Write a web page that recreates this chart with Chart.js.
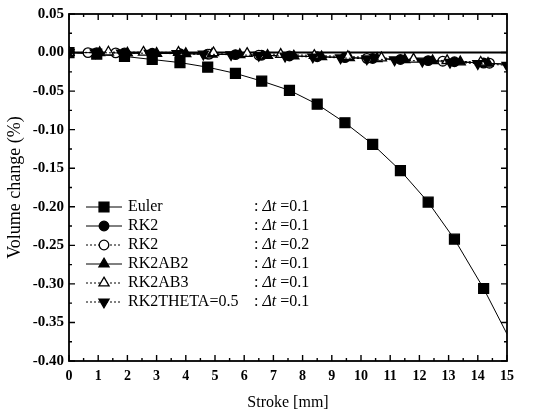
<!DOCTYPE html>
<html>
<head>
<meta charset="utf-8">
<script src="https://cdn.jsdelivr.net/npm/chart.js@4/dist/chart.umd.min.js"></script>
<style>
  html, body { margin: 0; padding: 0; background: #fff; }
  #wrap { width: 560px; height: 416px; position: relative; }
</style>
</head>
<body>
<div id="wrap"><canvas id="chart" width="560" height="416"></canvas></div>
<script>
// Dados (Stroke [mm] x Volume change (%))
const strokeEuler = [0, 0.95, 1.9, 2.85, 3.8, 4.75, 5.7, 6.6, 7.55, 8.5, 9.45, 10.4, 11.35, 12.3, 13.2, 14.2, 15];
const volEuler    = [0, -0.002, -0.005, -0.009, -0.013, -0.019, -0.027, -0.037, -0.049, -0.067, -0.091, -0.119, -0.153, -0.194, -0.242, -0.306, -0.365];

const strokeRK2a = [0, 0.95, 1.9, 2.85, 3.8, 4.75, 5.7, 6.6, 7.55, 8.5, 9.45, 10.4, 11.35, 12.3, 13.2, 14.2, 15];
const volRK2a    = [0, -0.0002, -0.0005, -0.0009, -0.0014, -0.002, -0.0027, -0.0035, -0.0044, -0.0054, -0.0065, -0.0077, -0.009, -0.0104, -0.0119, -0.0136, -0.0152];

const strokeRK2b = [0, 0.65, 1.6, 4.8, 6.5, 10.2, 12.8, 14.4];
const volRK2b    = [0, -0.0001, -0.0004, -0.002, -0.0034, -0.0075, -0.0112, -0.0138];

const strokeAB2 = [0, 1.05, 2.0, 3.0, 4.0, 4.9, 5.85, 6.8, 7.7, 8.65, 9.6, 10.55, 11.5, 12.45, 13.4, 14.35, 15];
const volAB2    = [0, -0.0002, -0.0006, -0.001, -0.0015, -0.0021, -0.0028, -0.0036, -0.0045, -0.0055, -0.0067, -0.0079, -0.0092, -0.0106, -0.0121, -0.0139, -0.0151];

const strokeAB3 = [0, 1.35, 2.55, 3.75, 4.95, 6.1, 7.25, 8.4, 9.55, 10.7, 11.8, 12.95, 14.1];
const volAB3    = [0, 0.0006, 0.0004, 0.0002, -0.0003, -0.0012, -0.0024, -0.0038, -0.0052, -0.0069, -0.0086, -0.0105, -0.0126];

const strokeTheta = [0, 0.9, 1.8, 2.75, 3.7, 4.6, 5.55, 6.5, 7.4, 8.35, 9.3, 10.2, 11.15, 12.1, 13.05, 14.0, 15];
const volTheta    = [0, -0.0002, -0.0005, -0.0009, -0.0014, -0.002, -0.0028, -0.0037, -0.0046, -0.0057, -0.0069, -0.0081, -0.0095, -0.011, -0.0126, -0.0143, -0.0165];

const xTicks = [0, 1, 2, 3, 4, 5, 6, 7, 8, 9, 10, 11, 12, 13, 14, 15];
const yTicks = [0.05, 0.00, -0.05, -0.10, -0.15, -0.20, -0.25, -0.30, -0.35, -0.40];

const legendNames = ['Euler', 'RK2', 'RK2', 'RK2AB2', 'RK2AB3', 'RK2THETA=0.5'];
const legendDt    = ['0.1', '0.1', '0.2', '0.1', '0.1', '0.1'];

const FONT = "'Liberation Serif', 'DejaVu Serif', serif";

function pts(xs, ys) {
    return xs.map((x, i) => ({ x: x, y: ys[i] }));
}
// último ponto em x=15 só prolonga a linha, sem marcador
function radii(n, r) {
    return Array.from({ length: n }, (_, i) => i === n - 1 ? 0 : r);
}

const series = [
    { data: pts(strokeEuler, volEuler), pointStyle: 'rect', pointRadius: radii(strokeEuler.length, 7), fill: '#000', dash: [], rot: 0 },
    { data: pts(strokeRK2a, volRK2a), pointStyle: 'circle', pointRadius: radii(strokeRK2a.length, 4.8), fill: '#000', dash: [], rot: 0 },
    { data: pts(strokeRK2b, volRK2b), pointStyle: 'circle', pointRadius: 4.8, fill: '#fff', dash: [2, 2], rot: 0 },
    { data: pts(strokeAB2, volAB2), pointStyle: 'triangle', pointRadius: radii(strokeAB2.length, 5.8), fill: '#000', dash: [], rot: 0 },
    { data: pts(strokeAB3, volAB3), pointStyle: 'triangle', pointRadius: 5.8, fill: '#fff', dash: [2, 2], rot: 0 },
    { data: pts(strokeTheta, volTheta), pointStyle: 'triangle', pointRadius: 5.8, fill: '#000', dash: [2, 2], rot: 180 }
];

const datasets = [{
    // linha de referência em zero
    data: [{ x: 0, y: 0 }, { x: 15, y: 0 }],
    borderColor: '#000',
    borderWidth: 2,
    pointRadius: 0,
    order: 10
}].concat(series.map((s, i) => ({
    label: legendNames[i],
    data: s.data,
    borderColor: '#000',
    borderWidth: 1,
    borderDash: s.dash,
    backgroundColor: s.fill,
    pointStyle: s.pointStyle,
    pointRadius: s.pointRadius,
    pointRotation: s.rot,
    pointBorderColor: '#000',
    pointBorderWidth: 1.3,
    pointBackgroundColor: s.fill,
    tension: 0,
    order: 6 - i
})));

// moldura e marcas de escala para dentro nos quatro lados
const framePlugin = {
    id: 'frame',
    afterDraw(chart) {
        const { ctx, chartArea: a, scales } = chart;
        const xs = scales.x, ys = scales.y;
        ctx.save();
        ctx.strokeStyle = '#000';
        ctx.lineWidth = 1.8;
        ctx.strokeRect(a.left, a.top, a.right - a.left, a.bottom - a.top);
        ctx.lineWidth = 1.4;
        ctx.beginPath();
        for (let v = 0; v <= 15.001; v += 0.5) {
            const p = xs.getPixelForValue(v);
            const len = Math.abs(v - Math.round(v)) < 1e-6 ? 6 : 3;
            ctx.moveTo(p, a.bottom); ctx.lineTo(p, a.bottom - len);
            ctx.moveTo(p, a.top); ctx.lineTo(p, a.top + len);
        }
        for (let k = 0; k <= 18; k++) {
            const v = 0.05 - k * 0.025;
            const p = ys.getPixelForValue(v);
            const len = k % 2 === 0 ? 6 : 3;
            ctx.moveTo(a.left, p); ctx.lineTo(a.left + len, p);
            ctx.moveTo(a.right, p); ctx.lineTo(a.right - len, p);
        }
        ctx.stroke();
        ctx.restore();
    }
};

function drawMarker(ctx, style, x, y, r, fill, rot) {
    ctx.save();
    ctx.translate(x, y);
    ctx.rotate(rot * Math.PI / 180);
    ctx.beginPath();
    if (style === 'rect') {
        const s = r * Math.SQRT1_2;
        ctx.rect(-s, -s, 2 * s, 2 * s);
    } else if (style === 'circle') {
        ctx.arc(0, 0, r, 0, Math.PI * 2);
    } else {
        ctx.moveTo(0, -r);
        ctx.lineTo(r * 0.87, r * 0.5);
        ctx.lineTo(-r * 0.87, r * 0.5);
        ctx.closePath();
    }
    ctx.fillStyle = fill;
    ctx.fill();
    ctx.lineWidth = 1.3;
    ctx.strokeStyle = '#000';
    ctx.stroke();
    ctx.restore();
}

// legenda desenhada dentro da área do gráfico
const legendPlugin = {
    id: 'insideLegend',
    afterDraw(chart) {
        const ctx = chart.ctx;
        const x0 = 86, x1 = 122, xm = 104, xt = 128, xc = 254;
        const y0 = 207, dy = 19;
        ctx.save();
        ctx.textBaseline = 'middle';
        ctx.fillStyle = '#000';
        series.forEach((s, i) => {
            const y = y0 + i * dy;
            ctx.beginPath();
            ctx.setLineDash(s.dash);
            ctx.lineWidth = 1;
            ctx.strokeStyle = '#000';
            ctx.moveTo(x0, y); ctx.lineTo(x1, y);
            ctx.stroke();
            ctx.setLineDash([]);
            const r = Array.isArray(s.pointRadius) ? s.pointRadius[0] : s.pointRadius;
            drawMarker(ctx, s.pointStyle, xm, y, r, s.fill, s.rot);
            ctx.font = '16px ' + FONT;
            ctx.fillText(legendNames[i], xt, y);
            let x = xc;
            ctx.fillText(':', x, y);
            x += ctx.measureText(': ').width;
            ctx.font = 'italic 16px ' + FONT;
            ctx.fillText('\u0394t', x, y);
            x += ctx.measureText('\u0394t').width;
            ctx.font = '16px ' + FONT;
            ctx.fillText(' =' + legendDt[i], x, y);
        });
        ctx.restore();
    }
};

new Chart(document.getElementById('chart').getContext('2d'), {
    type: 'line',
    data: { datasets: datasets },
    options: {
        responsive: false,
        animation: false,
        layout: { padding: { top: 14, right: 53, left: 0, bottom: 0 } },
        plugins: {
            legend: { display: false },
            tooltip: { enabled: false }
        },
        scales: {
            x: {
                type: 'linear',
                min: 0,
                max: 15,
                afterBuildTicks: s => { s.ticks = xTicks.map(v => ({ value: v })); },
                afterFit: s => { s.height = 55; },
                grid: { display: false, drawTicks: false },
                border: { display: false },
                ticks: {
                    padding: 7,
                    color: '#000',
                    font: { family: FONT, size: 14, weight: 'bold' },
                    maxRotation: 0,
                    callback: v => String(v)
                },
                title: {
                    display: true,
                    text: 'Stroke [mm]',
                    color: '#000',
                    font: { family: FONT, size: 16 },
                    padding: { top: 4 }
                }
            },
            y: {
                type: 'linear',
                min: -0.40,
                max: 0.05,
                afterBuildTicks: s => { s.ticks = yTicks.map(v => ({ value: v })); },
                afterFit: s => { s.width = 69; },
                grid: { display: false, drawTicks: false },
                border: { display: false },
                ticks: {
                    padding: 5,
                    color: '#000',
                    font: { family: FONT, size: 15, weight: 'bold' },
                    callback: v => (Math.abs(v) < 1e-9 ? 0 : v).toFixed(2)
                },
                title: {
                    display: true,
                    text: 'Volume change (%)',
                    color: '#000',
                    font: { family: FONT, size: 18 },
                    padding: { bottom: 0 }
                }
            }
        }
    },
    plugins: [framePlugin, legendPlugin]
});
</script>
</body>
</html>
